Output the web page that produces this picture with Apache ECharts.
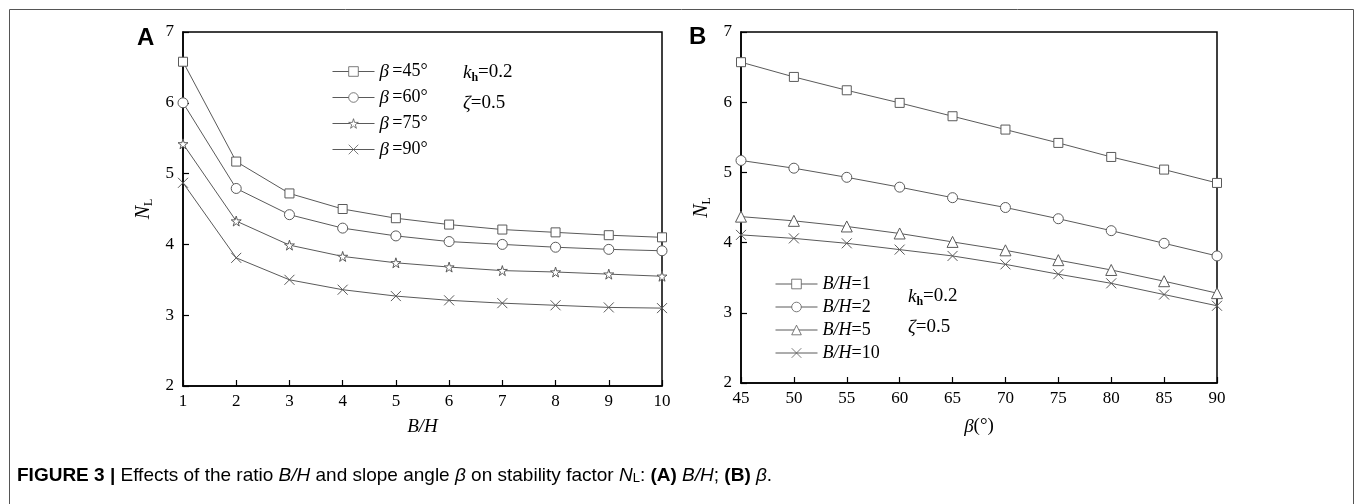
<!DOCTYPE html>
<html>
<head>
<meta charset="utf-8">
<script src="https://cdn.jsdelivr.net/npm/echarts@6/dist/echarts.min.js"></script>
<style>
html,body{margin:0;padding:0;background:#fff;}
#c{width:1357px;height:504px;}
</style>
</head>
<body>
<div id="c"></div>
<script>
// ---- Data ----
const ratioBH = [1, 2, 3, 4, 5, 6, 7, 8, 9, 10];
const beta45 = [6.58, 5.17, 4.72, 4.50, 4.37, 4.28, 4.21, 4.17, 4.13, 4.10];
const beta60 = [6.00, 4.79, 4.42, 4.23, 4.12, 4.04, 4.00, 3.96, 3.93, 3.91];
const beta75 = [5.42, 4.33, 3.99, 3.83, 3.74, 3.68, 3.63, 3.61, 3.58, 3.55];
const beta90 = [4.87, 3.81, 3.50, 3.36, 3.27, 3.21, 3.17, 3.14, 3.11, 3.10];
const betaNames = ['β=45°', 'β=60°', 'β=75°', 'β=90°'];

const slopeAngle = [45, 50, 55, 60, 65, 70, 75, 80, 85, 90];
const bh1 = [6.57, 6.36, 6.17, 5.99, 5.80, 5.61, 5.42, 5.22, 5.04, 4.85];
const bh2 = [5.17, 5.06, 4.93, 4.79, 4.64, 4.50, 4.34, 4.17, 3.99, 3.81];
const bh5 = [4.37, 4.31, 4.23, 4.13, 4.01, 3.89, 3.75, 3.61, 3.45, 3.28];
const bh10 = [4.11, 4.06, 3.99, 3.90, 3.81, 3.69, 3.55, 3.42, 3.26, 3.10];
const bhNames = ['B/H=1', 'B/H=2', 'B/H=5', 'B/H=10'];

const yTicks = [2, 3, 4, 5, 6, 7];

// ---- Styles ----
const serif = '"Liberation Serif", "DejaVu Serif", serif';
const lineColor = '#5a5a5a';
const STAR = 'path://M50,0 L61,35 L98,35 L68,57 L79,91 L50,70 L21,91 L32,57 L2,35 L39,35 Z';
const CROSS = 'path://M0,0 L10,10 M10,0 L0,10';

function pairs(xs, ys) { return xs.map((x, i) => [x, ys[i]]); }

function mkSeries(name, xs, ys, symbol, size, idx) {
  return {
    name: name, type: 'line', xAxisIndex: idx, yAxisIndex: idx,
    data: pairs(xs, ys),
    symbol: symbol, symbolSize: size, showSymbol: true,
    lineStyle: { color: lineColor, width: 1 },
    itemStyle: { color: '#fff', borderColor: lineColor, borderWidth: 1 },
    emphasis: { disabled: true },
    animation: false, clip: true, z: 3
  };
}

function xAxisCfg(idx, min, max, interval, nameRich, nameGap) {
  return {
    type: 'value', gridIndex: idx, min: min, max: max, interval: interval,
    name: nameRich, nameLocation: 'middle', nameGap: nameGap,
    nameTextStyle: {
      fontFamily: serif, fontSize: 19, color: '#000',
      rich: {
        i: { fontFamily: serif, fontStyle: 'italic', fontSize: 19, color: '#000' },
        n: { fontFamily: serif, fontSize: 19, color: '#000' }
      }
    },
    axisLine: { show: true, onZero: false, lineStyle: { color: '#000', width: 1.5 } },
    axisTick: { show: true, inside: true, length: 6, lineStyle: { color: '#000', width: 1.2 } },
    axisLabel: { fontFamily: serif, fontSize: 17, color: '#000', margin: 7 },
    splitLine: { show: false }
  };
}

function yAxisCfg(idx, nameGap) {
  return {
    type: 'value', gridIndex: idx, min: yTicks[0], max: yTicks[yTicks.length - 1], interval: 1,
    name: '{i|N}{s|L}', nameLocation: 'middle', nameGap: nameGap, nameRotate: 90,
    nameTextStyle: {
      rich: {
        i: { fontFamily: serif, fontStyle: 'italic', fontSize: 20, color: '#000', lineHeight: 22 },
        s: { fontFamily: serif, fontSize: 12, color: '#000', verticalAlign: 'bottom', lineHeight: 12 }
      }
    },
    axisLine: { show: true, onZero: false, lineStyle: { color: '#000', width: 1.5 } },
    axisTick: { show: true, inside: true, length: 6, lineStyle: { color: '#000', width: 1.2 } },
    axisLabel: { fontFamily: serif, fontSize: 17, color: '#000', margin: 9 },
    splitLine: { show: false }
  };
}

function annot(x, y) {
  return [
    {
      type: 'text', left: x, top: y, z: 10,
      style: {
        text: '{i|k}{s|h}{n|=0.2}',
        rich: {
          i: { fontFamily: serif, fontStyle: 'italic', fontSize: 19, color: '#000', lineHeight: 22 },
          s: { fontFamily: serif, fontSize: 12, fontWeight: 'bold', color: '#000', verticalAlign: 'bottom', lineHeight: 12 },
          n: { fontFamily: serif, fontSize: 19, color: '#000', lineHeight: 22 }
        }
      }
    },
    {
      type: 'text', left: x, top: y + 31, z: 10,
      style: {
        text: '{i|ζ}{n|=0.5}',
        rich: {
          i: { fontFamily: serif, fontStyle: 'italic', fontSize: 19, color: '#000', lineHeight: 22 },
          n: { fontFamily: serif, fontSize: 19, color: '#000', lineHeight: 22 }
        }
      }
    }
  ];
}

const capFont = '"Liberation Sans Narrow", "Liberation Sans", "DejaVu Sans", sans-serif';
const capSize = 19;
const capRich = {
  b: { fontFamily: capFont, fontSize: capSize, fontWeight: 'bold', color: '#111' },
  t: { fontFamily: capFont, fontSize: capSize, color: '#111' },
  i: { fontFamily: capFont, fontSize: capSize, fontStyle: 'italic', color: '#111' },
  s: { fontFamily: capFont, fontSize: 13, color: '#111', verticalAlign: 'bottom', lineHeight: 12 }
};

const chart = echarts.init(document.getElementById('c'), null, { renderer: 'canvas' });

const legendRichA = {
  i: { fontFamily: serif, fontStyle: 'italic', fontSize: 19, color: '#000' },
  n: { fontFamily: serif, fontSize: 18, color: '#000' }
};
const legendRichB = {
  i: { fontFamily: serif, fontStyle: 'italic', fontSize: 18, color: '#000' },
  n: { fontFamily: serif, fontSize: 18, color: '#000' }
};

const option = {
  backgroundColor: '#fff',
  animation: false,
  grid: [
    { left: 183, top: 32, width: 479, height: 354, show: true, borderColor: '#000', borderWidth: 1.5, backgroundColor: 'transparent' },
    { left: 741, top: 32, width: 476, height: 351, show: true, borderColor: '#000', borderWidth: 1.5, backgroundColor: 'transparent' }
  ],
  xAxis: [
    xAxisCfg(0, ratioBH[0], ratioBH[ratioBH.length - 1], 1, '{i|B/H}', 31),
    xAxisCfg(1, slopeAngle[0], slopeAngle[slopeAngle.length - 1], 5, '{i|β}{n|(°)}', 34)
  ],
  yAxis: [yAxisCfg(0, 28), yAxisCfg(1, 28)],
  legend: [
    {
      data: betaNames, orient: 'vertical', left: 327, top: 57,
      itemWidth: 42, itemHeight: 12, itemGap: 7,
      selectedMode: false, inactiveColor: '#000',
      lineStyle: { width: 1 },
      itemStyle: { borderWidth: 0.8 },
      formatter: n => '{i|β} {n|' + n.slice(1) + '}',
      textStyle: { rich: legendRichA }
    },
    {
      data: bhNames, orient: 'vertical', left: 770, top: 270,
      itemWidth: 42, itemHeight: 12, itemGap: 5,
      selectedMode: false, inactiveColor: '#000',
      lineStyle: { width: 1 },
      itemStyle: { borderWidth: 0.8 },
      formatter: n => '{i|B/H}{n|' + n.slice(3) + '}',
      textStyle: { rich: legendRichB }
    }
  ],
  series: [
    mkSeries(betaNames[0], ratioBH, beta45, 'rect', 9, 0),
    mkSeries(betaNames[1], ratioBH, beta60, 'circle', 10, 0),
    mkSeries(betaNames[2], ratioBH, beta75, STAR, 10, 0),
    mkSeries(betaNames[3], ratioBH, beta90, CROSS, 10, 0),
    mkSeries(bhNames[0], slopeAngle, bh1, 'rect', 9, 1),
    mkSeries(bhNames[1], slopeAngle, bh2, 'circle', 10, 1),
    mkSeries(bhNames[2], slopeAngle, bh5, 'triangle', 11, 1),
    mkSeries(bhNames[3], slopeAngle, bh10, CROSS, 10, 1)
  ],
  graphic: [
    { type: 'rect', shape: { x: 9.5, y: 9.5, width: 1344, height: 560 }, style: { fill: 'none', stroke: '#555', lineWidth: 1 }, z: 0, silent: true },
    { type: 'text', left: 137, top: 26, style: { text: 'A', fontFamily: '"Liberation Sans", Arial, sans-serif', fontWeight: 'bold', fontSize: 24, fill: '#000' } },
    { type: 'text', left: 689, top: 25, style: { text: 'B', fontFamily: '"Liberation Sans", Arial, sans-serif', fontWeight: 'bold', fontSize: 24, fill: '#000' } },
    ...annot(463, 63),
    ...annot(908, 287),
    {
      type: 'text', left: 17, top: 466,
      style: {
        text: '{b|FIGURE 3 |}{t| Effects of the ratio }{i|B/H}{t| and slope angle }{i|β}{t| on stability factor }{i|N}{s|L}{t|: }{b|(A)}{t| }{i|B/H}{t|; }{b|(B)}{t| }{i|β}{t|.}',
        rich: capRich
      }
    }
  ]
};
chart.setOption(option);
</script>
</body>
</html>
